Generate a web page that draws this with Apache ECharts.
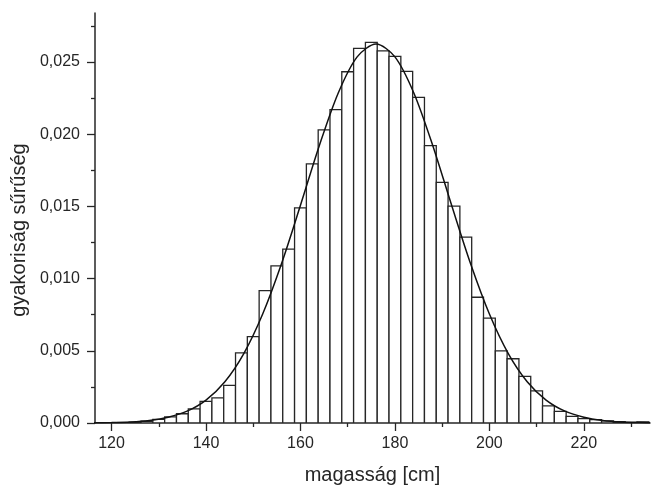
<!DOCTYPE html>
<html>
<head>
<meta charset="utf-8">
<script src="https://cdn.jsdelivr.net/npm/echarts@6/dist/echarts.min.js"></script>
<style>html,body{margin:0;padding:0;background:#fff}#c{width:656px;height:490px}</style>
</head>
<body>
<div id="c"></div>
<script>
// Histogram bin centres (cm), bin width 2.5 cm
const binCenters = [120,122.5,125,127.5,130,132.5,135,137.5,140,142.5,145,147.5,150,152.5,155,157.5,160,162.5,165,167.5,170,172.5,175,177.5,180,182.5,185,187.5,190,192.5,195,197.5,200,202.5,205,207.5,210,212.5,215,217.5,220,222.5,225,227.5,230,232.5];
const binDensity = [0.00002,0.00003,0.00005,0.00012,0.00025,0.00043,0.00064,0.00098,0.0015,0.00174,0.0026,0.00486,0.00598,0.00917,0.01089,0.01204,0.0149,0.01795,0.0203,0.02171,0.02433,0.02595,0.02637,0.02577,0.0254,0.02435,0.02256,0.01921,0.01667,0.01502,0.01288,0.00871,0.00727,0.005,0.00445,0.00323,0.00222,0.00119,0.0008,0.00046,0.0003,0.00023,0.00015,0.0001,0.00005,0.00008];
const binWidth = 2.5;
// Fitted curve points
const curveX = [116,120,124,128,132,136,140,144,148,152,156,160,164,168,172,176,180,184,188,192,196,200,204,208,212,216,220,224,228,232,234];
const curveY = [0.000011,0.00003,0.000075,0.00018,0.0004,0.00082,0.00159,0.00286,0.00481,0.00755,0.01105,0.01508,0.01922,0.02286,0.02536,0.02625,0.02536,0.02286,0.01922,0.01508,0.01105,0.00755,0.00481,0.00286,0.00159,0.00082,0.0004,0.00018,0.000075,0.00003,0.000018];
const xMajor = [120,140,160,180,200,220];
const xMinor = [130,150,170,190,210,230];
const yMajor = [0,0.005,0.01,0.015,0.02,0.025];
const yMinor = [0.0025,0.0075,0.0125,0.0175,0.0225,0.0275];

const ink = '#262626';
const font = 'Liberation Sans, Arial, sans-serif';
const chart = echarts.init(document.getElementById('c'), null, {renderer:'canvas'});
const histData = binCenters.map((c,i)=>[c, binDensity[i]]);
const curveData = curveX.map((x,i)=>[x, curveY[i]]);
const X0=116.5, X1=234, Y0=0, Y1=0.0284;
chart.setOption({
  animation:false,
  grid:{left:95,right:6,top:13,bottom:64},
  xAxis:[{
    type:'value',min:X0,max:X1,
    name:'magasság [cm]',nameLocation:'middle',nameGap:42,
    nameTextStyle:{fontFamily:font,fontSize:20,color:ink},
    axisLine:{show:true,onZero:false,lineStyle:{color:ink,width:1.5}},
    axisTick:{show:true,inside:false,length:8,customValues:xMajor,lineStyle:{color:ink,width:1.3}},
    axisLabel:{customValues:xMajor,margin:13,fontFamily:font,fontSize:16,color:ink},
    splitLine:{show:false}
  },{
    type:'value',min:X0,max:X1,position:'bottom',
    axisLine:{show:false},
    axisTick:{show:true,length:4,customValues:xMinor,lineStyle:{color:ink,width:1.3}},
    axisLabel:{show:false},splitLine:{show:false}
  }],
  yAxis:[{
    type:'value',min:Y0,max:Y1,
    name:'gyakoriság sűrűség',nameLocation:'middle',nameGap:66,nameRotate:90,
    nameTextStyle:{fontFamily:font,fontSize:20,color:ink,padding:[0,24,0,0]},
    axisLine:{show:true,onZero:false,lineStyle:{color:ink,width:1.5}},
    axisTick:{show:true,length:8,customValues:yMajor,lineStyle:{color:ink,width:1.3}},
    axisLabel:{customValues:yMajor,margin:15,fontFamily:font,fontSize:16,color:ink,
      formatter:v=>v.toFixed(3).replace('.',',')},
    splitLine:{show:false}
  },{
    type:'value',min:Y0,max:Y1,position:'left',
    axisLine:{show:false},
    axisTick:{show:true,length:4,customValues:yMinor,lineStyle:{color:ink,width:1.3}},
    axisLabel:{show:false},splitLine:{show:false}
  }],
  series:[{
    type:'custom',xAxisIndex:0,yAxisIndex:0,
    data:histData,
    renderItem:function(params,api){
      const c=api.value(0), v=api.value(1);
      const p1=api.coord([c-binWidth/2,v]);
      const p2=api.coord([c+binWidth/2,0]);
      return {type:'rect',shape:{x:p1[0],y:p1[1],width:p2[0]-p1[0],height:p2[1]-p1[1]},
        style:{fill:'#fff',stroke:ink,lineWidth:1.3}};
    },
    clip:true,z:2
  },{
    type:'line',xAxisIndex:0,yAxisIndex:0,data:curveData,smooth:0.3,
    showSymbol:false,symbol:'none',lineStyle:{color:'#111',width:1.5},z:5
  }]
});
</script>
</body>
</html>
